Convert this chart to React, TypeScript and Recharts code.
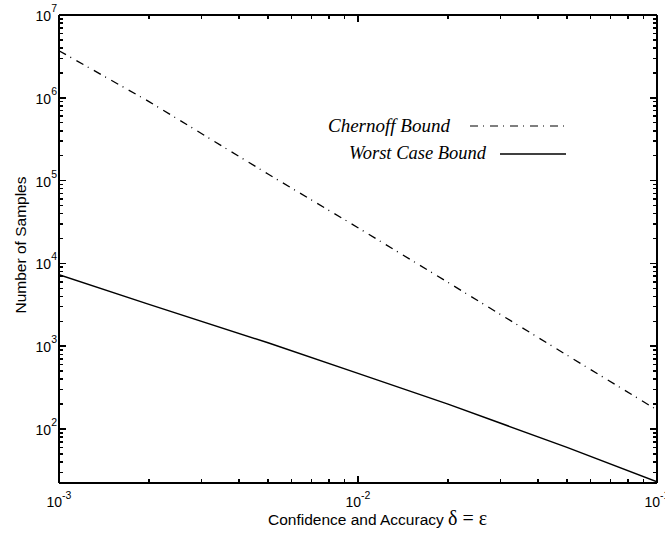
import React from "react";
import { LineChart, Line, XAxis, YAxis } from "recharts";

// values (log-log)
const confidence = [0.001, 0.002, 0.005, 0.01, 0.02, 0.05, 0.1];
const chernoffBound = [3.7e6, 9.0e5, 1.2e5, 2.7e4, 5.9e3, 780, 170];
const worstCaseBound = [7300, 3200, 1100, 470, 200, 60, 23];

const seriesNames = ["Chernoff Bound", "Worst Case Bound"];
const xDecades = [-3, -2, -1];
const yDecades = [1, 2, 3, 4, 5, 6, 7];
const minorSteps = [1, 2, 3, 4, 5, 6, 7, 8, 9];

const X_DOMAIN = [0.001, 0.1];
const Y_DOMAIN = [22.3, 1e7];

const W = 665;
const H = 536;
const LEFT_W = 59;
const RIGHT_W = 8;
const TOP_H = 15;
const BOTTOM_H = 53;
const PLOT_LEFT = LEFT_W;
const PLOT_RIGHT = W - RIGHT_W;
const PLOT_TOP = TOP_H;
const PLOT_BOTTOM = H - BOTTOM_H;

const data = confidence.map((x, i) => ({
  x,
  chernoff: chernoffBound[i],
  worst: worstCaseBound[i],
}));

function decadeTicks(decades: number[], lo: number, hi: number) {
  const out: number[] = [];
  decades.forEach((d) => {
    minorSteps.forEach((m) => {
      const v = Number((m * Math.pow(10, d)).toPrecision(6));
      if (v >= lo * 0.999 && v <= hi * 1.001) out.push(v);
    });
  });
  return out;
}

const xTicks = decadeTicks(xDecades, X_DOMAIN[0], X_DOMAIN[1]);
const yTicks = decadeTicks(yDecades, Y_DOMAIN[0], Y_DOMAIN[1]);

const sans = "'Liberation Sans', Arial, Helvetica, sans-serif";
const serif = "'Liberation Serif', 'Times New Roman', serif";

const exponentOf = (v: number) => {
  const e = Math.log10(v);
  return Math.abs(e - Math.round(e)) < 1e-6 ? Math.round(e) : null;
};

const MAJOR = 7;
const MINOR = 4;
const TICK_STROKE = { stroke: "#000", strokeWidth: 1.5, fill: "none", shapeRendering: "crispEdges" };

// ticks point inward on both sides of the box, like matlab
const BottomTick = (props: any) => {
  const { x, payload } = props;
  const e = exponentOf(payload.value);
  const len = e !== null ? MAJOR : MINOR;
  return (
    <g>
      <path d={`M${x},${PLOT_BOTTOM}L${x},${PLOT_BOTTOM - len}M${x},${PLOT_TOP}L${x},${PLOT_TOP + len}`} {...TICK_STROKE} />
      {e !== null && (
        <text x={x} y={PLOT_BOTTOM + 24} textAnchor="middle" fontFamily={sans} fontSize={14} fill="#000">
          10<tspan dy={-8} fontSize={10.5}>{e}</tspan>
        </text>
      )}
    </g>
  );
};

const LeftTick = (props: any) => {
  const { y, payload } = props;
  const e = exponentOf(payload.value);
  const len = e !== null ? MAJOR : MINOR;
  return (
    <g>
      <path d={`M${PLOT_LEFT},${y}L${PLOT_LEFT + len},${y}M${PLOT_RIGHT},${y}L${PLOT_RIGHT - len},${y}`} {...TICK_STROKE} />
      {e !== null && (
        <text x={PLOT_LEFT - 2} y={y + 6} textAnchor="end" fontFamily={sans} fontSize={14} fill="#000">
          10<tspan dy={-9} fontSize={10.5}>{e}</tspan>
        </text>
      )}
    </g>
  );
};

const axisLine = { stroke: "#000", strokeWidth: 1.5, shapeRendering: "crispEdges" };

export default function App() {
  return (
    <div style={{ position: "absolute", left: 0, top: 0, background: "#fff" }}>
      <LineChart width={W} height={H} data={data} margin={{ top: 0, right: 0, bottom: 0, left: 0 }}>
        <XAxis
          xAxisId="main"
          dataKey="x"
          type="number"
          scale="log"
          domain={X_DOMAIN}
          allowDataOverflow
          ticks={xTicks}
          interval={0}
          height={BOTTOM_H}
          tickSize={0}
          tickMargin={0}
          tickLine={false}
          axisLine={axisLine}
          tick={BottomTick}
        />
        <XAxis
          xAxisId="top"
          orientation="top"
          dataKey="x"
          type="number"
          scale="log"
          domain={X_DOMAIN}
          allowDataOverflow
          height={TOP_H}
          tickLine={false}
          tick={false}
          axisLine={axisLine}
        />
        <YAxis
          yAxisId="main"
          type="number"
          scale="log"
          domain={Y_DOMAIN}
          allowDataOverflow
          ticks={yTicks}
          interval={0}
          width={LEFT_W}
          tickSize={0}
          tickMargin={0}
          tickLine={false}
          axisLine={axisLine}
          tick={LeftTick}
        />
        <YAxis
          yAxisId="right"
          orientation="right"
          type="number"
          scale="log"
          domain={Y_DOMAIN}
          allowDataOverflow
          width={RIGHT_W}
          tickLine={false}
          tick={false}
          axisLine={axisLine}
        />
        <Line
          xAxisId="main"
          yAxisId="main"
          type="linear"
          dataKey="chernoff"
          name={seriesNames[0]}
          stroke="#000"
          strokeWidth={1.3}
          strokeDasharray="8 5 1 6"
          dot={false}
          activeDot={false}
          isAnimationActive={false}
        />
        <Line
          xAxisId="main"
          yAxisId="main"
          type="linear"
          dataKey="worst"
          name={seriesNames[1]}
          stroke="#000"
          strokeWidth={1.5}
          dot={false}
          activeDot={false}
          isAnimationActive={false}
        />

        {/* legend, drawn inside the axes like the original */}
        <g>
          <text x={328} y={132} fontFamily={serif} fontStyle="italic" fontSize={19} fill="#000">
            {seriesNames[0]}
          </text>
          <line x1={470} x2={565} y1={126} y2={126} stroke="#000" strokeWidth={1.2} strokeDasharray="8 5 1 6" />
          <text x={349} y={159} fontFamily={serif} fontStyle="italic" fontSize={18.5} fill="#000">
            {seriesNames[1]}
          </text>
          <line x1={500} x2={566} y1={154} y2={154} stroke="#000" strokeWidth={1.4} />
        </g>

        {/* axis titles */}
        <text x={26} y={245} transform="rotate(-90 26 245)" textAnchor="middle" fontFamily={sans} fontSize={15.5} fill="#000">
          Number of Samples
        </text>
        <text x={268} y={525} fontFamily={sans} fontSize={15.5} fill="#000">
          Confidence and Accuracy{" "}
          <tspan fontFamily={serif} fontSize={20}>δ = ε</tspan>
        </text>
      </LineChart>
    </div>
  );
}
